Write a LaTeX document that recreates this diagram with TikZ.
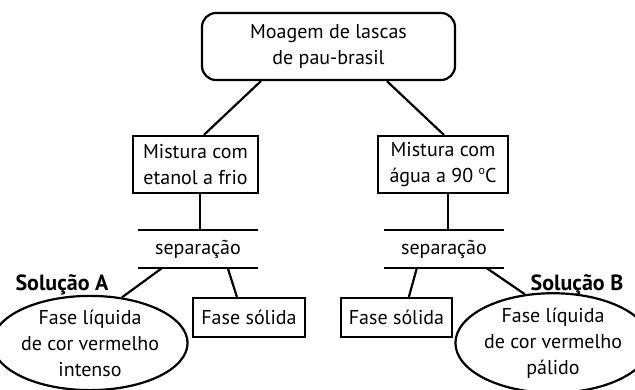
\documentclass[tikz,border=0pt]{standalone}
\usepackage{fontspec}
\setmainfont{PT Sans}
\usetikzlibrary{shapes.geometric,calc}
\begin{document}
\begin{tikzpicture}[x=1pt,y=-1pt,
  every node/.style={font=\fontsize{20}{26}\selectfont, align=center, inner sep=0pt},
  ln/.style={line width=2.2pt},
  bx/.style={draw, line width=2.2pt},
  sep/.style={minimum width=120pt, minimum height=38pt},
  ell/.style={draw, ellipse, line width=2.2pt, minimum width=170pt, minimum height=90pt},
  lab/.style={font=\fontsize{22}{26}\selectfont\bfseries}]
\useasboundingbox (0,0) rectangle (635,389);
\node[bx, rounded corners=14pt, minimum width=253pt, minimum height=67pt] (top) at (328.5,46.5) {Moagem de lascas\\de pau-brasil};
\node[bx, minimum width=125pt, minimum height=57pt] (mixL) at (195.5,164.5) {Mistura com\\etanol a frio};
\node[bx, minimum width=130pt, minimum height=57pt] (mixR) at (443,164.5) {Mistura com\\água a 90 \raisebox{7.5pt}{\fontsize{12}{12}\selectfont o}C};
\node[sep] (sepL) at (198,249) {separação};
\node[sep] (sepR) at (444,249) {separação};
\draw[ln] (sepL.north west) -- (sepL.north east);
\draw[ln] (sepL.south west) -- (sepL.south east);
\draw[ln] (sepR.north west) -- (sepR.north east);
\draw[ln] (sepR.south west) -- (sepR.south east);
\node[bx, minimum width=112pt, minimum height=39pt] (fsL) at (249,317.5) {Fase sólida};
\node[bx, minimum width=111pt, minimum height=39pt] (fsR) at (396.5,317.5) {Fase sólida};
\node[ell] (elL) at (90,343) {Fase líquida\\de cor vermelho\\intenso};
\node[ell] (elR) at (553,343) {Fase líquida\\de cor vermelho\\pálido};
\node[lab] (solA) at (62,285) {Solução A};
\node[lab] (solB) at (577,285) {Solução B};
% connectors
\draw[ln] ($(top.south west)+(60,0)$) -- ($(mixL.north west)+(72,0)$);
\draw[ln] ($(top.south west)+(186,0)$) -- ($(mixR.north west)+(67,0)$);
\draw[ln] (mixL.south -| 200,0) -- (sepL.north -| 200,0);
\draw[ln] (mixR.south -| 448,0) -- (sepR.north -| 448,0);
\draw[ln] ($(sepL.south west)+(24,0)$) -- (elL.55);
\draw[ln] ($(sepL.south west)+(90,0)$) -- ($(fsL.north west)+(45,0)$);
\draw[ln] ($(sepR.south west)+(33,0)$) -- ($(fsR.north west)+(69,0)$);
\draw[ln] ($(sepR.south west)+(103,0)$) -- (elR.120);
\end{tikzpicture}
\end{document}
